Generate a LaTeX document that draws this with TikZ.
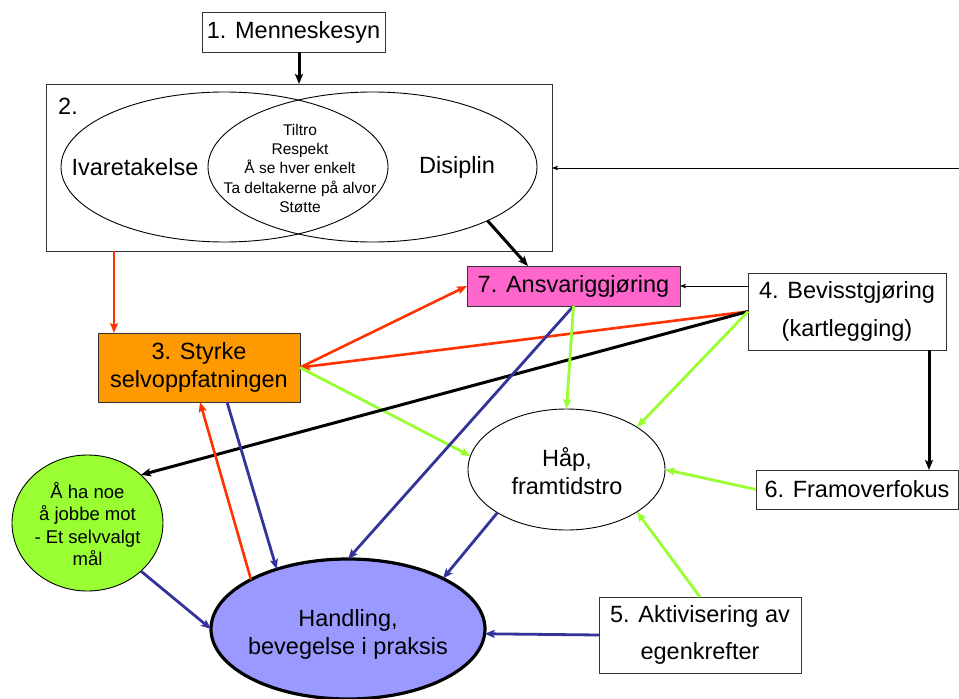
\documentclass[tikz,border=0pt]{standalone}
\usepackage{fontspec}
\setmainfont{Liberation Sans}
\usetikzlibrary{shapes.geometric,arrows.meta,calc}
\definecolor{cred}{HTML}{FF3300}
\definecolor{cblue}{HTML}{333399}
\definecolor{cgreen}{HTML}{99FF33}
\definecolor{corange}{HTML}{FF9900}
\definecolor{cpink}{HTML}{FF66CC}
\definecolor{cpurple}{HTML}{9999FF}
\newcommand\bigtxt{\fontsize{23.5}{28}\selectfont}
\newcommand\bigwide{\fontsize{23.5}{37.5}\selectfont}
\newcommand\smalltxt{\fontsize{15.5}{19.4}\selectfont}
\newcommand\midtxt{\fontsize{18.5}{22.4}\selectfont}
\begin{document}
\begin{tikzpicture}[x=1pt,y=-1pt,
  box/.style={draw=black!80, line width=0.9pt, rectangle, inner sep=0pt, outer sep=0pt, align=center},
  ell/.style={draw=black, line width=0.9pt, ellipse, inner sep=0pt, outer sep=0pt},
  txt/.style={align=center, inner sep=0pt},
  tip/.style={-{Stealth[length=10pt,width=8pt,inset=2pt]}},
  thintip/.style={line width=1pt, -{Stealth[length=6pt,width=4.5pt,inset=1.5pt]}},
  lred/.style={draw=cred, line width=2.6pt, tip},
  lblue/.style={draw=cblue, line width=2.8pt, tip},
  lgreen/.style={draw=cgreen, line width=2.8pt, tip},
  lblack/.style={draw=black, line width=3pt, tip},
  thinblack/.style={draw=black, thintip}]
\useasboundingbox (0,0) rectangle (959,699);

% nodes
\node[box, minimum width=183pt, minimum height=40pt, font=\bigtxt] (b1) at (293.5,32) {1. Menneskesyn};
\node[box, minimum width=506pt, minimum height=167pt] (b2) at (299,167.5) {};
\node[ell, minimum width=327pt, minimum height=150pt] (eL) at (224.5,167) {};
\node[ell, minimum width=329pt, minimum height=150pt] (eR) at (372.5,167) {};
\node[txt, font=\bigtxt] (n2) at (68,106) {2.};
\node[txt, font=\bigtxt] (niv) at (135,167) {Ivaretakelse};
\node[txt, font=\bigtxt] (ndis) at (457,167) {Disiplin};
\node[txt, font=\smalltxt] (ninner) at (300,168.5) {Tiltro\\Respekt\\Å se hver enkelt\\Ta deltakerne på alvor\\Støtte};

\node[box, fill=cpink, minimum width=213pt, minimum height=40pt, font=\bigtxt] (b7) at (573.5,286) {7. Ansvariggjøring};
\node[box, minimum width=198pt, minimum height=77pt, font=\bigwide] (b4) at (847,311.5) {4. Bevisstgjøring\\(kartlegging)};
\node[box, fill=corange, minimum width=202pt, minimum height=69pt, font=\bigtxt] (b3) at (199,367.5) {3. Styrke\\selvoppfatningen};

\node[ell, fill=cgreen, minimum width=151pt, minimum height=136pt] (gc) at (87.5,523) {};
\node[txt, font=\midtxt] (ngc) at (87.5,524) {Å ha noe\\å jobbe mot\\- Et selvvalgt\\mål};

\node[ell, minimum width=197pt, minimum height=121pt] (hap) at (566.5,469.5) {};
\node[txt, font=\bigtxt] (nhap) at (567,471) {Håp,\\framtidstro};

\node[box, minimum width=202pt, minimum height=39pt, font=\bigtxt] (b6) at (857,489.5) {6. Framoverfokus};
\node[box, minimum width=202pt, minimum height=76pt, font=\bigwide] (b5) at (700,635) {5. Aktivisering av\\egenkrefter};

\node[ell, fill=cpurple, line width=3.2pt, minimum width=274pt, minimum height=140pt] (hand) at (348,629) {};
\node[txt, font=\bigtxt] (nhand) at (348,634) {Handling,\\bevegelse i praksis};

% connectors
\draw[lblack] (b1.south -| b2.north) -- (b2.north);
\coordinate (rin) at (959,168);
\draw[thinblack] (rin) -- (rin -| b2.east);
\draw[lblack] (eR.-25) -- ([xshift=61pt]b7.north west);
\coordinate (r3) at ([xshift=16pt]b3.north west);
\draw[lred] (r3 |- b2.south) -- (r3);
\draw[thinblack] (b7.east -| b4.west) -- (b7.east);
\draw[lred] (b4.west) -- (b3.east);
\draw[lred] (b3.east) -- (b7.west);
\draw[lgreen] (b3.east) -- (hap.172);
\draw[lblack] (b4.west) -- (gc.42);
\draw[lgreen] (b4.west) -- (hap.31);
\draw[lblue] (b7.south) -- (hand.north);
\draw[lgreen] (b7.south) -- (hap.north);
\coordinate (c46) at ([xshift=-17pt]b4.south east);
\draw[lblack] (c46) -- (c46 |- b6.north);
\draw[lgreen] (b6.west) -- (hap.east);
\draw[lgreen] (b5.north) -- (hap.-31);
\draw[lblue] (b5.west) -- (hand.-2);
\draw[lblue] (hap.-148) -- (hand.28);
\draw[lblue] ([xshift=129pt]b3.south west) -- (hand.140);
\draw[lred] (hand.153) -- ([xshift=102pt]b3.south west);
\draw[lblue] (gc.-42) -- (hand.west);
\end{tikzpicture}
\end{document}
